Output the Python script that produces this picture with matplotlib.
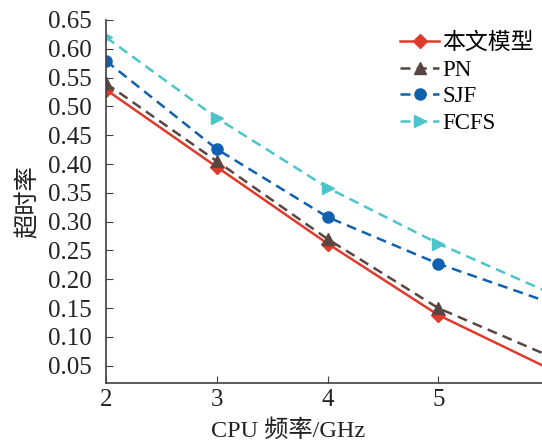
import matplotlib
matplotlib.use('Agg')
import matplotlib.pyplot as plt

plt.rcParams['font.family'] = ['Liberation Serif', 'Noto Sans CJK SC']
plt.rcParams['font.size'] = 17.5

# CPU frequency (GHz) and timeout rate per scheduler
freq = [2, 3, 4, 5, 6]
ours = [0.529, 0.395, 0.262, 0.138, 0.045]
pn = [0.540, 0.405, 0.270, 0.150, 0.067]
sjf = [0.579, 0.426, 0.308, 0.227, 0.160]
fcfs = [0.620, 0.480, 0.359, 0.262, 0.177]
labels = ['本文模型', 'PN', 'SJF', 'FCFS']
yticks = [0.05, 0.10, 0.15, 0.20, 0.25, 0.30, 0.35, 0.40, 0.45, 0.50, 0.55, 0.60, 0.65]

fig = plt.figure(figsize=(5.42, 4.43), dpi=100)
ax = fig.add_axes([106 / 542, 1 - 383 / 443, 443 / 542, 363 / 443])

ax.plot(freq, ours, color='#e03a2a', ls='-', lw=1.8, marker='D', ms=7.5, label=labels[0])
ax.plot(freq, pn, color='#5a4640', ls=(0, (4, 2.5)), lw=1.8, marker='^', ms=8, label=labels[1])
ax.plot(freq, sjf, color='#1060b0', ls=(0, (4, 2.5)), lw=1.8, marker='o', ms=8, label=labels[2])
ax.plot(freq, fcfs, color='#4cc4cc', ls=(0, (4, 2.5)), lw=1.8, marker='>', ms=8, label=labels[3])

ax.set_xlim(2, 6)
ax.set_ylim(0.02, 0.65)
ax.set_xticks([2, 3, 4, 5])
ax.set_yticks(yticks)
ax.set_yticklabels(['%.2f' % v for v in yticks])
ax.tick_params(direction='in', length=5, color='#404040', labelcolor='#222222', labelsize=18)
ax.tick_params(axis='y', pad=10)
ax.tick_params(axis='x', pad=4)
for s in ['top', 'right']:
    ax.spines[s].set_visible(False)
for s in ['left', 'bottom']:
    ax.spines[s].set_color('#404040')
    ax.spines[s].set_linewidth(1.2)

ax.set_xlabel('CPU 频率/GHz', color='#222222')
ax.xaxis.set_label_coords(0.41, -0.1)
ax.set_ylabel('超时率', color='#222222')
ax.yaxis.set_label_coords(-0.15, 0.5)

leg = ax.legend(loc='upper left', bbox_to_anchor=(0.664, 0.965), frameon=False,
                prop={'size': 16.5}, borderpad=0.0,
                handlelength=1.7, handletextpad=0.15, labelspacing=0.24, borderaxespad=0.0)

fig.savefig('out.png', dpi=100)
